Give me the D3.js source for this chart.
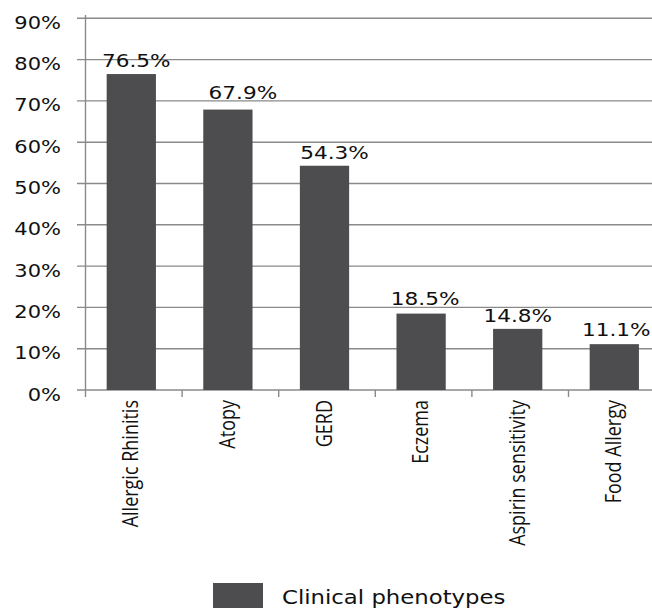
<!DOCTYPE html>
<html>
<head>
<meta charset="utf-8">
<script src="https://cdn.jsdelivr.net/npm/d3@7"></script>
<style>
  html, body { margin: 0; padding: 0; background: #fff; }
  svg { display: block; }
</style>
</head>
<body>
<div id="chart"></div>
<script>
// Prevalence of clinical phenotypes
const categories = ["Allergic Rhinitis", "Atopy", "GERD", "Eczema", "Aspirin sensitivity", "Food Allergy"];
const values = [0.765, 0.679, 0.543, 0.185, 0.148, 0.111];
const yTicks = [0, 0.1, 0.2, 0.3, 0.4, 0.5, 0.6, 0.7, 0.8, 0.9];
const seriesName = "Clinical phenotypes";

const W = 652, H = 608;
const stretch = 1.2; // horizontal widening applied to every text run

// hand-tuned nudges for the value labels (dx, gap above bar)
const labelDx = [5, 15, 10, 4, 0, 2];
const labelGap = [7, 10.5, 6.5, 9, 6.7, 8];

const svg = d3.select("#chart").append("svg")
  .attr("width", W).attr("height", H);

const x0 = 85.5, step = 96.6, yBase = 390, yTop = 18.3;

const x = d3.scaleBand()
  .domain(categories)
  .range([x0 - 2.5, x0 - 2.5 + step * categories.length])
  .paddingInner(0.49)
  .paddingOuter(0.245);

const y = d3.scaleLinear()
  .domain([0, 0.9])
  .range([yBase, yTop]);

const gridColor = "#8a8a8a";
const barColor = "#4d4d4f";
const pct = d3.format(".0%");
const pct1 = d3.format(".1%");

// horizontal gridlines with tick stubs left of the axis
svg.append("g")
  .selectAll("line")
  .data(yTicks)
  .join("line")
  .attr("x1", 77).attr("x2", W)
  .attr("y1", d => y(d)).attr("y2", d => y(d))
  .attr("stroke", gridColor).attr("stroke-width", 1.4);

// vertical value axis
svg.append("line")
  .attr("x1", x0).attr("x2", x0)
  .attr("y1", 15).attr("y2", yBase)
  .attr("stroke", gridColor).attr("stroke-width", 1.4);

// category separators below the baseline
const sepPos = categories.map((c, i) => x0 + i * step);
svg.append("g")
  .selectAll("line")
  .data(sepPos)
  .join("line")
  .attr("x1", d => d).attr("x2", d => d)
  .attr("y1", yBase).attr("y2", yBase + 7)
  .attr("stroke", gridColor).attr("stroke-width", 1.4);

// y tick labels
svg.append("g")
  .selectAll("text")
  .data(yTicks)
  .join("text")
  .attr("transform", d => `translate(61,${y(d) + 10.5}) scale(${stretch},1)`)
  .attr("text-anchor", "end")
  .attr("font-family", "'DejaVu Sans', Verdana, sans-serif")
  .attr("font-size", 17.5)
  .attr("fill", "#111")
  .text(d => pct(d));

// bars
svg.append("g")
  .selectAll("rect")
  .data(values)
  .join("rect")
  .attr("x", (d, i) => x(categories[i]))
  .attr("width", x.bandwidth())
  .attr("y", d => y(d))
  .attr("height", d => yBase - y(d))
  .attr("fill", barColor);

// value labels above bars
svg.append("g")
  .selectAll("text")
  .data(values)
  .join("text")
  .attr("transform", (d, i) =>
    `translate(${x(categories[i]) + x.bandwidth() / 2 + labelDx[i]},${y(d) - labelGap[i]}) scale(${stretch},1)`)
  .attr("text-anchor", "middle")
  .attr("font-family", "'DejaVu Sans', Verdana, sans-serif")
  .attr("font-size", 18)
  .attr("fill", "#111")
  .text(d => pct1(d));

// rotated category labels
svg.append("g")
  .selectAll("text")
  .data(categories)
  .join("text")
  .attr("transform", d => `translate(${x(d) + x.bandwidth() / 2 + 7},${yBase + 10}) scale(${stretch},1) rotate(-90)`)
  .attr("text-anchor", "end")
  .attr("font-family", "'Open Sans', 'Liberation Sans', sans-serif")
  .attr("font-size", 18)
  .attr("fill", "#111")
  .text(d => d);

// legend
const legend = svg.append("g");
legend.append("rect")
  .attr("x", 213).attr("y", 583)
  .attr("width", 50).attr("height", 30)
  .attr("fill", barColor);
legend.append("text")
  .attr("transform", `translate(282,604) scale(${stretch},1)`)
  .attr("font-family", "'DejaVu Sans', Verdana, sans-serif")
  .attr("font-size", 19)
  .attr("fill", "#111")
  .text(seriesName);
</script>
</body>
</html>
